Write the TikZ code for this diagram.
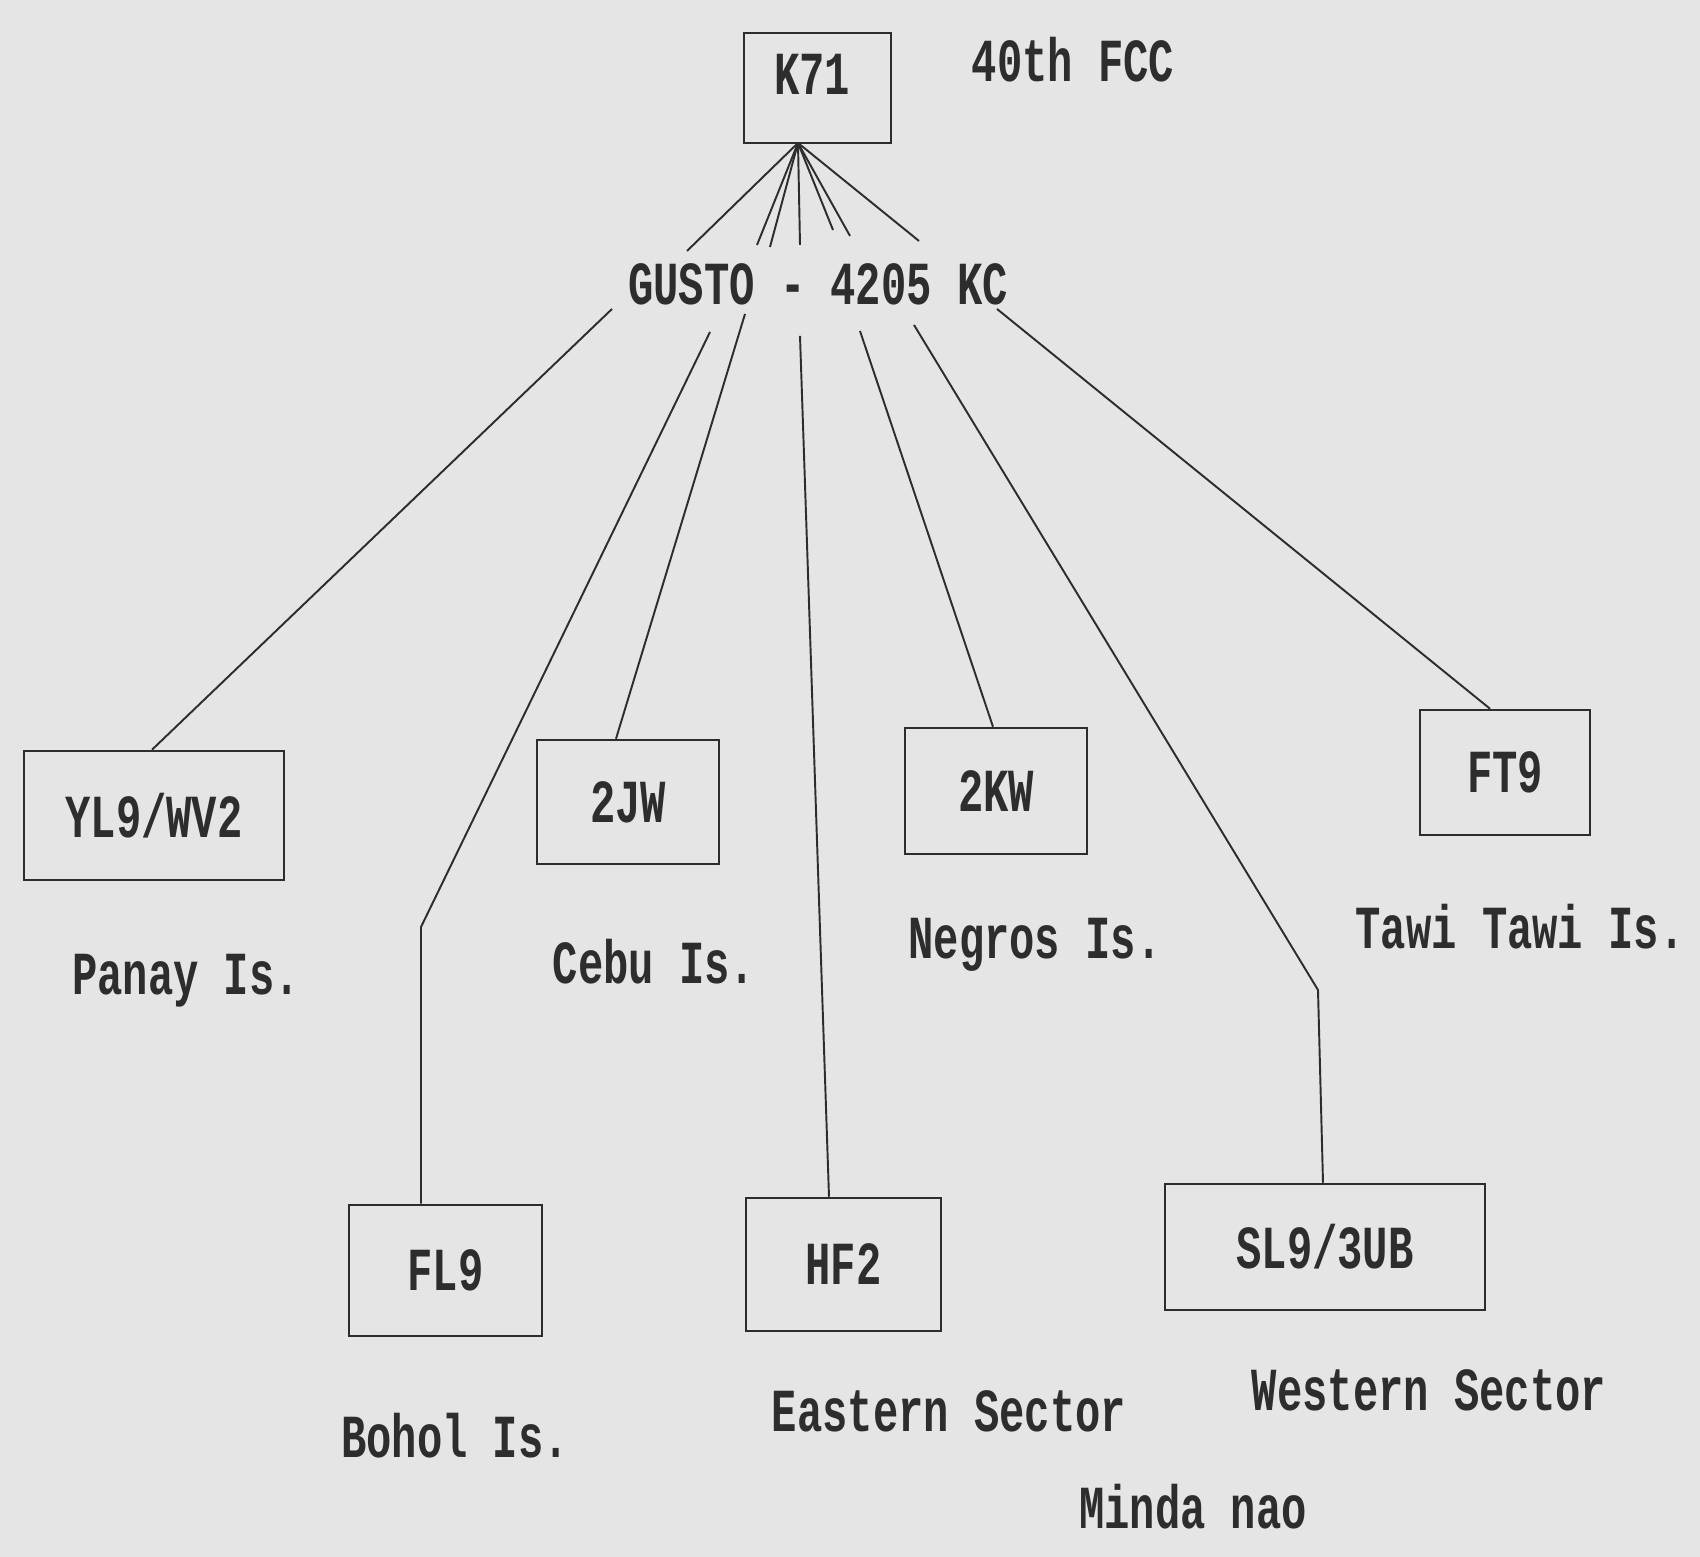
\documentclass[tikz,border=0pt]{standalone}
\usepackage{fontspec}
\setmonofont{Liberation Mono}
\definecolor{paper}{RGB}{229,229,229}
\definecolor{ink}{RGB}{45,45,45}
\newcommand{\tw}[1]{\scalebox{1}[1.45]{#1}}
\tikzset{
  stn/.style={draw=ink, line width=0.7pt, rectangle, inner sep=0pt},
  lbl/.style={text=ink, font=\ttfamily\bfseries\fontsize{12}{14}\selectfont},
  conn/.style={draw=ink, line width=0.55pt}
}
\begin{document}
\begin{tikzpicture}
  \fill[paper] (0,0) rectangle (17,15.57);
  \useasboundingbox (0,0) rectangle (17,15.57);

  % top of the net
  \node[stn, minimum width=1.47cm, minimum height=1.10cm] (k71) at (8.175,14.69) {};
  \node[lbl] (k71t) at (8.12,14.83) {\tw{K71}};
  \node[lbl] (fcc) at (10.73,14.97) {\tw{40th FCC}};
  \node[lbl] (gusto) at (8.18,12.73) {\tw{GUSTO - 4205 KC}};
  \coordinate (hub) at (7.98,14.14);

  % stations
  \node[stn, minimum width=2.60cm, minimum height=1.29cm, lbl] (yl9) at (1.54,7.415) {\tw{YL9/WV2}};
  \node[stn, minimum width=1.82cm, minimum height=1.24cm, lbl] (jw) at (6.28,7.55) {\tw{2JW}};
  \node[stn, minimum width=1.82cm, minimum height=1.26cm, lbl] (kw) at (9.96,7.66) {\tw{2KW}};
  \node[stn, minimum width=1.70cm, minimum height=1.25cm, lbl] (ft9) at (15.05,7.845) {\tw{FT9}};
  \node[stn, minimum width=1.93cm, minimum height=1.31cm, lbl] (fl9) at (4.455,2.865) {\tw{FL9}};
  \node[stn, minimum width=1.95cm, minimum height=1.33cm, lbl] (hf2) at (8.435,2.925) {\tw{HF2}};
  \node[stn, minimum width=3.20cm, minimum height=1.26cm, lbl] (sl9) at (13.25,3.10) {\tw{SL9/3UB}};

  % places
  \node[lbl] (panay) at (1.86,5.76) {\tw{Panay Is.}};
  \node[lbl] (cebu) at (6.54,5.95) {\tw{Cebu Is.}};
  \node[lbl] (negros) at (10.35,6.12) {\tw{Negros Is.}};
  \node[lbl] (tawi) at (15.20,6.30) {\tw{Tawi Tawi Is.}};
  \node[lbl] (bohol) at (4.55,1.21) {\tw{Bohol Is.}};
  \node[lbl] (east) at (9.49,1.46) {\tw{Eastern Sector}};
  \node[lbl] (west) at (14.29,1.67) {\tw{Western Sector}};
  \node[lbl] (minda) at (11.93,0.50) {\tw{Minda nao}};

  % fan from K71 down to the frequency
  \coordinate (f1) at (6.87,13.06);
  \coordinate (f2) at (7.57,13.12);
  \coordinate (f3) at (7.70,13.10);
  \coordinate (f4) at (8.00,13.12);
  \coordinate (f5) at (8.33,13.27);
  \coordinate (f6) at (8.50,13.21);
  \coordinate (f7) at (9.19,13.16);
  \foreach \f in {f1,f2,f3,f4,f5,f6,f7}
    \draw[conn] (hub) -- (\f);

  % from the frequency to the stations
  \coordinate (g1) at (6.12,12.48);
  \coordinate (g2) at (7.10,12.25);
  \coordinate (g3) at (7.45,12.43);
  \coordinate (g4) at (8.00,12.21);
  \coordinate (g5) at (8.60,12.26);
  \coordinate (g6) at (9.14,12.32);
  \coordinate (g7) at (9.97,12.48);
  \coordinate (bbend) at (4.21,6.30);
  \coordinate (wbend) at (13.18,5.67);

  \draw[conn] (g1) -- ([xshift=-0.02cm]yl9.north);
  \draw[conn] (g2) -- (bbend) -- ([xshift=-0.245cm]fl9.north);
  \draw[conn] (g3) -- ([xshift=-0.12cm]jw.north);
  \draw[conn] (g4) -- ([xshift=-0.145cm]hf2.north);
  \draw[conn] (g5) -- ([xshift=-0.03cm]kw.north);
  \draw[conn] (g6) -- (wbend) -- ([xshift=-0.02cm]sl9.north);
  \draw[conn] (g7) -- ([xshift=-0.15cm]ft9.north);
\end{tikzpicture}
\end{document}
